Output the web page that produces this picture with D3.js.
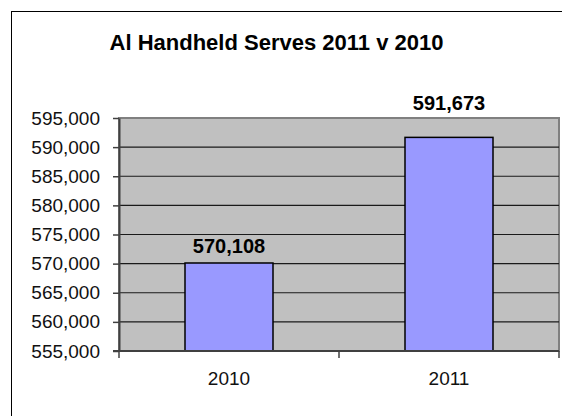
<!DOCTYPE html>
<html>
<head>
<meta charset="utf-8">
<script src="https://cdn.jsdelivr.net/npm/d3@7"></script>
<style>
  body { margin: 0; background: #fff; }
  text { font-family: "Liberation Sans", Arial, sans-serif; }
</style>
</head>
<body>
<div id="container"></div>
<script>
const w = 562;
const h = 416;

// data
let years = ["2010", "2011"];
let serves = [570108, 591673];
let yTicks = [555000, 560000, 565000, 570000, 575000, 580000, 585000, 590000, 595000];
let title = "Al Handheld Serves 2011 v 2010";

let plotLeft = 119, plotRight = 559, plotTop = 118, plotBottom = 351;

let data = years.map(function(y, i){ return { year: y, value: serves[i] }; });

let viz = d3.select("#container").append("svg").attr("width", w).attr("height", h);

// outer chart frame (runs off the right and bottom)
viz.append("rect")
    .attr("x", 11.5).attr("y", 11.5)
    .attr("width", w + 20).attr("height", h + 20)
    .attr("fill", "none").attr("stroke", "black");

viz.append("text")
    .attr("x", 276.5).attr("y", 50)
    .attr("text-anchor", "middle")
    .attr("font-size", 22).attr("font-weight", "bold")
    .text(title);

let xScale = d3.scaleBand().domain(years).range([plotLeft, plotRight]).paddingInner(0.6).paddingOuter(0.3);
let yScale = d3.scaleLinear().domain([555000, 595000]).range([plotBottom, plotTop]);

// plot area
viz.append("rect")
    .attr("x", plotLeft).attr("y", plotTop)
    .attr("width", plotRight - plotLeft).attr("height", plotBottom - plotTop)
    .attr("fill", "#c0c0c0").attr("stroke", "#808080").attr("stroke-width", 2);

// gridlines
viz.selectAll(".grid").data(yTicks.slice(1, -1)).enter()
    .append("line")
    .attr("x1", plotLeft).attr("x2", plotRight)
    .attr("y1", function(d){ return yScale(d); })
    .attr("y2", function(d){ return yScale(d); })
    .attr("stroke", "#1a1a1a").attr("stroke-width", 1.2);

// y axis
let yAxis = d3.axisLeft(yScale).tickValues(yTicks).tickFormat(d3.format(",")).tickSizeInner(6).tickSizeOuter(0).tickPadding(13);
let yAxisGroup = viz.append("g").attr("transform", "translate(" + plotLeft + ",0)").call(yAxis);
yAxisGroup.select(".domain").attr("stroke", "#404040").attr("stroke-width", 2);
yAxisGroup.selectAll(".tick line").attr("stroke", "#404040").attr("stroke-width", 1.5);
yAxisGroup.selectAll("text").attr("font-size", 19).attr("fill", "#111")
    .style("font-family", "'Liberation Sans', Arial, sans-serif");

// x axis
let xAxis = d3.axisBottom(xScale).tickSize(0).tickPadding(20.5);
let xAxisGroup = viz.append("g").attr("transform", "translate(0," + plotBottom + ")").call(xAxis);
xAxisGroup.select(".domain").remove();
xAxisGroup.selectAll("text").attr("font-size", 19).attr("fill", "#111")
    .style("font-family", "'Liberation Sans', Arial, sans-serif");

// bars
viz.selectAll(".bar").data(data).enter()
    .append("rect")
    .attr("x", function(d){ return xScale(d.year); })
    .attr("y", function(d){ return yScale(d.value); })
    .attr("width", xScale.bandwidth())
    .attr("height", function(d){ return plotBottom - yScale(d.value); })
    .attr("fill", "#9999ff").attr("stroke", "black").attr("stroke-width", 1.5);

// x axis line and category boundary ticks, drawn over the bars
viz.append("line")
    .attr("x1", plotLeft - 6).attr("x2", plotRight)
    .attr("y1", plotBottom).attr("y2", plotBottom)
    .attr("stroke", "#404040").attr("stroke-width", 2);
let bounds = [plotLeft].concat(years.map(function(y){ return xScale(y) + xScale.step() * 0.5 + xScale.bandwidth() / 2; }));
viz.selectAll(".xtick").data(bounds).enter()
    .append("line")
    .attr("x1", function(d){ return d; }).attr("x2", function(d){ return d; })
    .attr("y1", plotBottom).attr("y2", plotBottom + 7)
    .attr("stroke", "#404040").attr("stroke-width", 1.5);

// value labels; when a label would cross the plot top it sits just above it
viz.selectAll(".label").data(data).enter()
    .append("text")
    .attr("x", function(d){ return xScale(d.year) + xScale.bandwidth() / 2; })
    .attr("y", function(d){
        let y = yScale(d.value) - 10;
        if (y - 15 < plotTop) { y = plotTop - 8; }
        return y;
    })
    .attr("text-anchor", "middle")
    .attr("font-size", 20).attr("font-weight", "bold")
    .text(function(d){ return d3.format(",")(d.value); });
</script>
</body>
</html>
